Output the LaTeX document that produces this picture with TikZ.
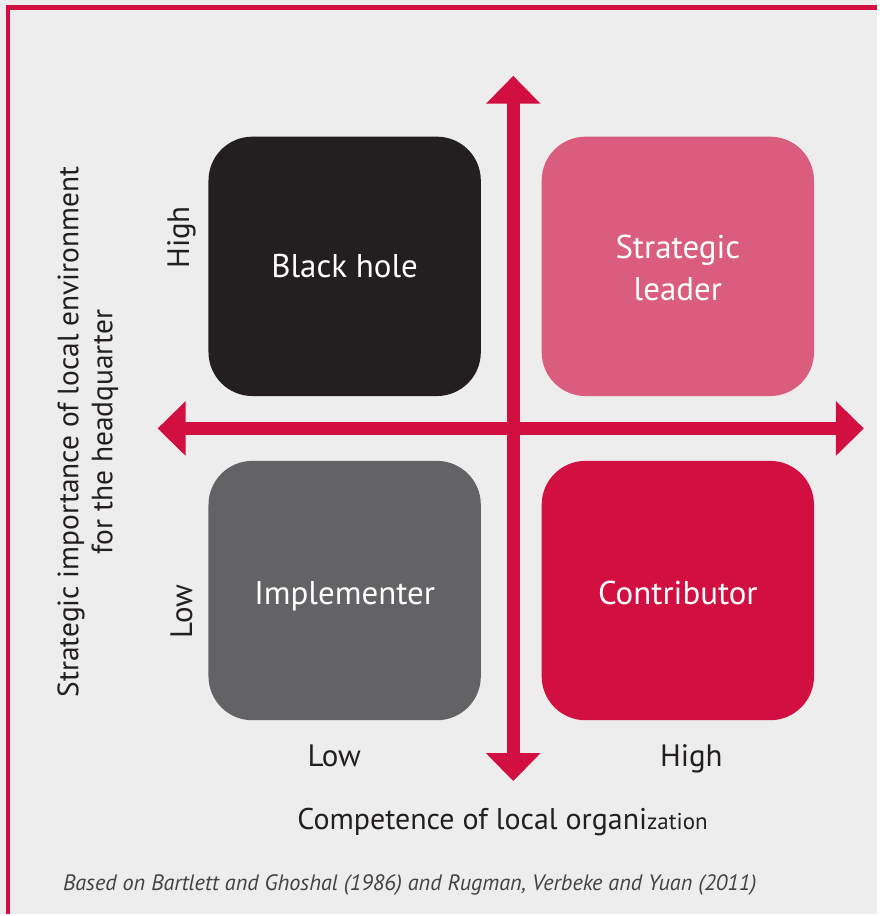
\documentclass[tikz,border=0pt]{standalone}
\usepackage{fontspec}
\setmainfont{PT Sans}
\usetikzlibrary{arrows.meta}
\definecolor{bgGrey}{HTML}{EDEDED}
\definecolor{frameRed}{HTML}{D20F41}
\definecolor{holeBlack}{HTML}{231F20}
\definecolor{implGrey}{HTML}{636365}
\definecolor{leadPink}{HTML}{DA5D7D}
\definecolor{contribRed}{HTML}{D10F41}
\definecolor{inkDark}{HTML}{231F20}
\begin{document}
\begin{tikzpicture}[x=1pt,y=-1pt,
  quad/.style={rounded corners=44pt, minimum width=273pt, minimum height=260pt,
    inner sep=0pt},
  quadtext/.style={inner sep=0pt, text=white, align=center,
    font=\fontsize{33}{42}\selectfont},
  axis/.style={draw=frameRed, line width=13pt,
    {Triangle[width=53pt,length=28pt]}-{Triangle[width=53pt,length=28pt]}},
  lbl/.style={text=inkDark, font=\fontsize{31}{34}\selectfont, inner sep=0pt}
]
% page and frame
\fill[bgGrey] (0,0) rectangle (879,916);
\draw[frameRed, line width=4.5pt] (8,916) -- (8,7.5) -- (879,7.5);
\useasboundingbox (0,0) rectangle (879,916);

% four quadrants
\node[quad, fill=holeBlack]  (bh) at (345.5,267) {};
\node[quad, fill=leadPink]   (sl) at (679.5,267) {};
\node[quad, fill=implGrey]   (im) at (345.5,592) {};
\node[quad, fill=contribRed] (co) at (679.5,592) {};
\node[quadtext, anchor=base] (bhtext) at ([yshift=-11pt]bh.center) {Black hole};
\node[quadtext]              (sltext) at ([yshift=-2pt]sl.center) {Strategic\\leader};
\node[quadtext, anchor=base] (imtext) at ([yshift=-14pt]im.center) {Implementer};
\node[quadtext, anchor=base] (cotext) at ([yshift=-14pt]co.center) {Contributor};

% axes
\coordinate (xl) at (158,429.5);
\coordinate (xr) at (866,429.5);
\coordinate (yt) at (514.5,76);
\coordinate (yb) at (514.5,783);
\draw[axis] (xl) -- (xr);
\draw[axis] (yt) -- (yb);

% axis level labels
\node[lbl, rotate=90] (yhigh) at (182,238) {High};
\node[lbl, rotate=90] (ylow)  at (182,613) {Low};
\node[lbl, anchor=base] (xlow)  at (335,768) {Low};
\node[lbl, anchor=base] (xhigh) at (693,768) {High};

% axis titles
\node[lbl, rotate=90, align=center, font=\fontsize{29.5}{34}\selectfont] (ytitle) at (88,433)
  {Strategic importance of local environment\\for the headquarter};
\node[lbl, anchor=base west, font=\fontsize{30}{33}\selectfont] (xtitle) at (298,832)
  {Competence of local organi{\fontsize{23}{26}\selectfont zation}};

% source note
\node[anchor=base west, inner sep=0pt, text=inkDark!85,
  font=\fontsize{22.3}{26}\selectfont\itshape] (src) at (63,893)
  {Based on Bartlett and Ghoshal (1986) and Rugman, Verbeke and Yuan (2011)};
\end{tikzpicture}
\end{document}
